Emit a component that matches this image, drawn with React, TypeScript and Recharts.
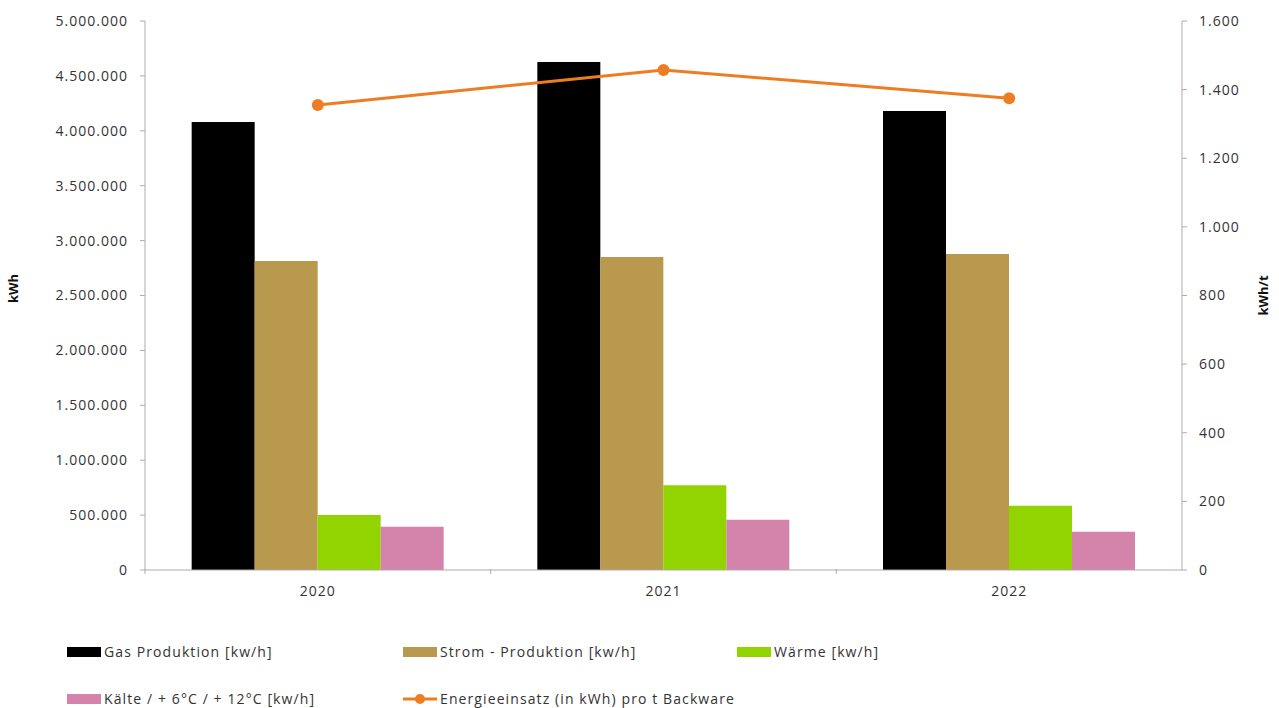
import { ComposedChart, Bar, Line, XAxis, YAxis } from "recharts"

const years = ["2020", "2021", "2022"]
const gasProduktion = [4080000, 4627000, 4180000]
const stromProduktion = [2814000, 2851000, 2878000]
const waerme = [501000, 771000, 586000]
const kaelte = [394000, 458000, 349000]
const energieProTonne = [1355, 1457, 1375]

const leftTicks = [0, 500000, 1000000, 1500000, 2000000, 2500000, 3000000, 3500000, 4000000, 4500000, 5000000]
const rightTicks = [0, 200, 400, 600, 800, 1000, 1200, 1400, 1600]

const data = years.map((year, i) => ({
  year,
  gas: gasProduktion[i],
  strom: stromProduktion[i],
  waerme: waerme[i],
  kaelte: kaelte[i],
  energie: energieProTonne[i],
}))

const FONT = "'Open Sans', Lato, sans-serif"
const AXIS_COLOR = "#b3aaaa"
const TEXT_COLOR = "#333"
const tickStyle = { fill: TEXT_COLOR, fontSize: 14, fontFamily: FONT, letterSpacing: 1 }

// German style thousands separator
const fmt = (v: number) => v.toString().replace(/\B(?=(\d{3})+(?!\d))/g, ".")

// Category label at the band centre, tick mark at the band's left edge
const YearTick = (props: any) => {
  const { x, y, payload } = props
  const half = payload.offset ?? 0
  return (
    <g>
      <line x1={x - half} x2={x - half} y1={y - 17} y2={y - 12} stroke={AXIS_COLOR} />
      <text x={x} y={y} dy="0.71em" textAnchor="middle" {...tickStyle}>
        {payload.value}
      </text>
    </g>
  )
}

const legendItems = [
  { label: "Gas Produktion [kw/h]", color: "#000000", left: 67, top: 642, line: false },
  { label: "Strom - Produktion [kw/h]", color: "#b8994e", left: 403, top: 642, line: false },
  { label: "Wärme [kw/h]", color: "#92d400", left: 737, top: 642, line: false },
  { label: "Kälte / + 6°C / + 12°C [kw/h]", color: "#d483ab", left: 67, top: 689, line: false },
  { label: "Energieeinsatz (in kWh) pro t Backware", color: "#ee7d22", left: 403, top: 689, line: true },
]

export default function App() {
  return (
    <div style={{ position: "absolute", left: 0, top: 0, width: 1279, height: 708, background: "#fff", fontFamily: FONT }}>
      <ComposedChart
        width={1279}
        height={620}
        data={data}
        margin={{ top: 21, right: 0, bottom: 0, left: 0 }}
        barCategoryGap="13.5%"
        barGap={0}
      >
        <XAxis
          dataKey="year"
          height={50}
          stroke={AXIS_COLOR}
          tickLine={false}
          tickSize={0}
          tickMargin={16}
          tick={<YearTick />}
        />
        <YAxis
          yAxisId="left"
          width={145}
          domain={[0, 5000000]}
          ticks={leftTicks}
          tickFormatter={fmt}
          stroke={AXIS_COLOR}
          tickSize={5}
          tickMargin={12}
          tick={tickStyle}
          label={{ value: "kWh", angle: -90, position: "insideLeft", offset: 13, textAnchor: "middle", dy: -7, fill: "#111", fontSize: 13, fontWeight: "bold", fontFamily: FONT }}
        />
        <YAxis
          yAxisId="right"
          orientation="right"
          width={97}
          domain={[0, 1600]}
          ticks={rightTicks}
          tickFormatter={fmt}
          stroke={AXIS_COLOR}
          tickSize={5}
          tickMargin={12}
          tick={tickStyle}
          label={{ value: "kWh/t", angle: -90, position: "insideRight", offset: 16, textAnchor: "middle", fill: "#111", fontSize: 13, fontWeight: "bold", fontFamily: FONT }}
        />
        <Bar yAxisId="left" dataKey="gas" fill="#000000" isAnimationActive={false} />
        <Bar yAxisId="left" dataKey="strom" fill="#b8994e" isAnimationActive={false} />
        <Bar yAxisId="left" dataKey="waerme" fill="#92d400" isAnimationActive={false} />
        <Bar yAxisId="left" dataKey="kaelte" fill="#d483ab" isAnimationActive={false} />
        <Line
          yAxisId="right"
          dataKey="energie"
          stroke="#ee7d22"
          strokeWidth={3}
          dot={{ r: 6, fill: "#ee7d22", stroke: "#ee7d22", strokeWidth: 0 }}
          isAnimationActive={false}
        />
      </ComposedChart>
      {legendItems.map((item) => (
        <div
          key={item.label}
          style={{ position: "absolute", left: item.left, top: item.top, display: "flex", alignItems: "center", fontSize: 14, letterSpacing: 1.1, color: TEXT_COLOR, whiteSpace: "nowrap" }}
        >
          {item.line ? (
            <svg width={34} height={12} style={{ marginRight: 3 }}>
              <line x1={0} x2={34} y1={6} y2={6} stroke={item.color} strokeWidth={3} />
              <circle cx={17} cy={6} r={5} fill={item.color} />
            </svg>
          ) : (
            <span style={{ display: "inline-block", width: 34, height: 10, background: item.color, marginRight: 3 }} />
          )}
          {item.label}
        </div>
      ))}
    </div>
  )
}
